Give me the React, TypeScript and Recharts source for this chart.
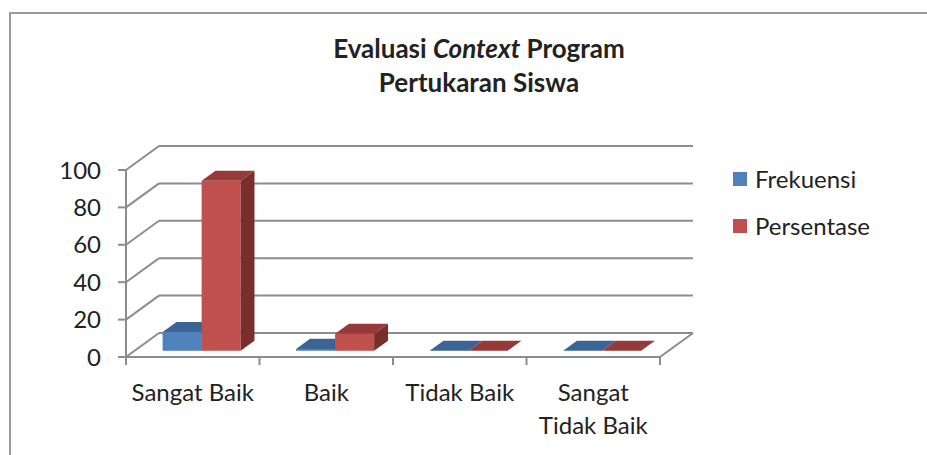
import React from "react";
import { BarChart, Bar, XAxis, YAxis, CartesianGrid, Legend } from "recharts";

const categories = ["Sangat Baik", "Baik", "Tidak Baik", "Sangat Tidak Baik"];
const categoryLines = [["Sangat Baik"], ["Baik"], ["Tidak Baik"], ["Sangat", "Tidak Baik"]];
const frekuensi = [10, 1, 0, 0];
const persentase = [90.9, 9.1, 0, 0];
const yTicks = [0, 20, 40, 60, 80, 100];
const seriesNames = ["Frekuensi", "Persentase"];

const data = categories.map((c, i) => ({
  name: c,
  Frekuensi: frekuensi[i],
  Persentase: persentase[i],
}));

const DX = 33;
const DY = -24;
const FRONT = 0.26;
const DEPTH = 0.42;
const GRID = "#8c8c8c";
const TEXT = "#222";
const FONT = "Lato, 'Open Sans', sans-serif";
const FS = 24;

const COLORS = {
  Frekuensi: { front: "#4F81BD", top: "#3C6596", side: "#345781" },
  Persentase: { front: "#C0504D", top: "#953A38", side: "#7A2E2C" },
} as Record<string, { front: string; top: string; side: string }>;

const make3DBar = (key: string) => (props: any) => {
  const { x, y, width, height } = props;
  if (x == null || y == null) return <g />;
  const c = COLORS[key];
  const ox = DX * FRONT;
  const oy = DY * FRONT;
  const dx = DX * DEPTH;
  const dy = DY * DEPTH;
  const h = Math.max(0, height || 0);
  const fx = x + ox;
  const fy = y + oy;
  return (
    <g>
      {h > 0 && <rect x={fx} y={fy} width={width} height={h} fill={c.front} />}
      {h > 0 && (
        <polygon
          points={`${fx + width},${fy} ${fx + width + dx},${fy + dy} ${fx + width + dx},${fy + h + dy} ${fx + width},${fy + h}`}
          fill={c.side}
        />
      )}
      <polygon
        points={`${fx},${fy} ${fx + width},${fy} ${fx + width + dx},${fy + dy} ${fx + dx},${fy + dy}`}
        fill={c.top}
      />
    </g>
  );
};

const gridLine = (props: any) => {
  const { x1, y1, x2, index } = props;
  const bottom = (props.y ?? 0) + (props.height ?? 0);
  const isFloor = Math.abs(y1 - bottom) < 0.5;
  return (
    <g key={`g-${index}-${y1}`}>
      <line x1={x1 + DX} y1={y1 + DY} x2={x2 + DX} y2={y1 + DY} stroke={GRID} strokeWidth={2} />
      <line x1={x1} y1={y1} x2={x1 + DX} y2={y1 + DY} stroke={GRID} strokeWidth={2} />
      {isFloor && (
        <>
          <line x1={x1} y1={y1} x2={x2} y2={y1} stroke={GRID} strokeWidth={2} />
          <line x1={x2} y1={y1} x2={x2 + DX} y2={y1 + DY} stroke={GRID} strokeWidth={2} />
        </>
      )}
    </g>
  );
};

const XTick = (props: any) => {
  const { x, y, payload, index, width, visibleTicksCount } = props;
  const n = visibleTicksCount || categories.length;
  const half = width / n / 2;
  const lines = categoryLines[index] || [String(payload.value)];
  const last = index === n - 1;
  return (
    <g>
      <line x1={x - half} y1={y} x2={x - half} y2={y + 8} stroke={GRID} strokeWidth={2} />
      {last && <line x1={x + half} y1={y} x2={x + half} y2={y + 8} stroke={GRID} strokeWidth={2} />}
      {lines.map((l: string, i: number) => (
        <text key={i} x={x} y={y + 43.5 + i * 33} textAnchor="middle" fill={TEXT} fontSize={FS} fontFamily={FONT}>
          {l}
        </text>
      ))}
    </g>
  );
};

const LegendContent = (props: any) => {
  const payload = props.payload || [];
  return (
    <div style={{ fontFamily: FONT, fontSize: FS, color: TEXT }}>
      {payload.map((p: any, i: number) => (
        <div key={i} style={{ display: "flex", alignItems: "center", height: 47 }}>
          <div style={{ width: 14, height: 14, background: COLORS[p.value]?.front || p.color }} />
          <span style={{ marginLeft: 8, lineHeight: "24px" }}>{p.value}</span>
        </div>
      ))}
    </div>
  );
};

export default function App() {
  return (
    <div
      style={{
        position: "fixed",
        left: 8,
        top: 8,
        width: 919,
        height: 447,
        overflow: "hidden",
        fontFamily: FONT,
        background: "#fff",
      }}
    >
      <div
        style={{
          position: "absolute",
          left: 1,
          top: 4,
          right: 0,
          bottom: 0,
          borderTop: "2px solid #9a9a9a",
          borderLeft: "2px solid #9a9a9a",
        }}
      />
      <div
        style={{
          position: "absolute",
          left: 221,
          top: 22.6,
          width: 500,
          textAlign: "center",
          fontFamily: FONT,
          fontWeight: 700,
          fontSize: 26,
          lineHeight: "34px",
          color: TEXT,
        }}
      >
        <div>
          Evaluasi <i>Context</i> Program
        </div>
        <div>Pertukaran Siswa</div>
      </div>
      <BarChart
        width={919}
        height={447}
        data={data}
        margin={{ top: 162, right: 267, bottom: 38, left: 58 }}
        barCategoryGap="21%"
        barGap={0}
      >
        <CartesianGrid horizontal={gridLine} vertical={false} fill="none" />
        <XAxis
          dataKey="name"
          height={60}
          axisLine={false}
          tickLine={false}
          tickSize={0}
          tickMargin={0}
          interval={0}
          tick={<XTick />}
        />
        <YAxis
          width={60}
          domain={[0, 100]}
          ticks={yTicks}
          interval={0}
          axisLine={{ stroke: GRID, strokeWidth: 2 }}
          tickLine={{ stroke: GRID, strokeWidth: 2 }}
          tickSize={8}
          tickMargin={17}
          tick={{ fill: TEXT, fontSize: FS, fontFamily: FONT }}
        />
        <Legend
          layout="horizontal"
          verticalAlign="middle"
          align="center"
          wrapperStyle={{ position: "absolute", left: 725, top: 147, width: 180 }}
          content={<LegendContent />}
        />
        <Bar dataKey={seriesNames[0]} fill={COLORS.Frekuensi.front} isAnimationActive={false} shape={make3DBar("Frekuensi")} />
        <Bar dataKey={seriesNames[1]} fill={COLORS.Persentase.front} isAnimationActive={false} shape={make3DBar("Persentase")} />
      </BarChart>
    </div>
  );
}
